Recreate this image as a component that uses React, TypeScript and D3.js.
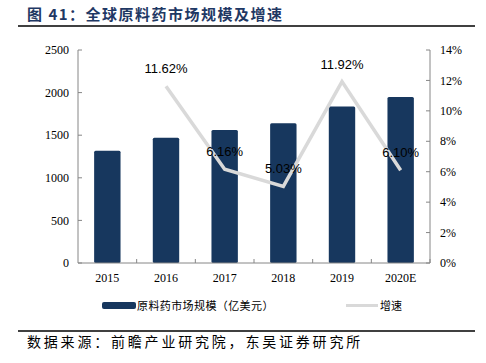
import * as d3 from "d3";

const years = ["2015", "2016", "2017", "2018", "2019", "2020E"];
const marketSize = [1318, 1471, 1562, 1640, 1836, 1948];
const growth = [null, 11.62, 6.16, 5.03, 11.92, 6.1];
const leftTicks = [0, 500, 1000, 1500, 2000, 2500];
const rightTicks = [0, 2, 4, 6, 8, 10, 12, 14];

const W = 486;
const H = 363;
const m = { left: 78, right: 430, top: 50, bottom: 263 };
const barColor = "#17375e";
const lineColor = "#d9d9d9";
const serif = "'Liberation Serif', 'Times New Roman', serif";
const sans = "'Liberation Sans', Arial, sans-serif";
const cjk = "'Noto Sans CJK SC', sans-serif";

export default function App() {
  const x = d3.scaleBand().domain(years).range([m.left, m.right]).paddingInner(0.55).paddingOuter(0.275);
  const xb = d3.scaleBand().domain(years).range([m.left, m.right]);
  const y = d3.scaleLinear().domain([0, 2500]).range([m.bottom, m.top]);
  const y2 = d3.scaleLinear().domain([0, 14]).range([m.bottom, m.top]);

  const pts = years
    .map((yr, i) => ({ yr, v: growth[i] }))
    .filter((d) => d.v !== null) as { yr: string; v: number }[];
  const line = d3
    .line<{ yr: string; v: number }>()
    .x((d) => xb(d.yr)! + xb.bandwidth() / 2)
    .y((d) => y2(d.v));

  return (
    <svg width={W} height={H} style={{ position: "absolute", left: 0, top: 0 }}>
      <rect width={W} height={H} fill="#fff" />
      <text x={27} y={20} fontFamily={cjk} fontWeight="bold" fontSize={15} letterSpacing={1.5} fill="#1f3864">
        图 41：全球原料药市场规模及增速
      </text>
      <line x1={18} x2={475} y1={26} y2={26} stroke="#000" strokeWidth={1.5} />

      {/* bars */}
      {years.map((yr, i) => (
        <rect
          key={yr}
          x={x(yr)}
          y={y(marketSize[i])}
          width={x.bandwidth()}
          height={m.bottom - y(marketSize[i])}
          rx={1.5}
          fill={barColor}
        />
      ))}

      {/* axes */}
      <g stroke="#868686" strokeWidth={1} fill="none">
        <line x1={m.left} x2={m.left} y1={m.top} y2={m.bottom} />
        <line x1={m.right} x2={m.right} y1={m.top} y2={m.bottom} />
        <line x1={m.left} x2={m.right} y1={m.bottom} y2={m.bottom} />
        {leftTicks.map((t) => (
          <line key={t} x1={m.left} x2={m.left + 4} y1={y(t)} y2={y(t)} />
        ))}
        {rightTicks.map((t) => (
          <line key={t} x1={m.right - 4} x2={m.right} y1={y2(t)} y2={y2(t)} />
        ))}
        {years.map((yr) => (
          <line key={yr} x1={xb(yr)! + xb.bandwidth()} x2={xb(yr)! + xb.bandwidth()} y1={m.bottom} y2={m.bottom - 4} />
        ))}
      </g>
      <g fontFamily={serif} fontSize={12} fill="#000">
        {leftTicks.map((t) => (
          <text key={t} x={m.left - 9} y={y(t)} dy="0.35em" textAnchor="end">
            {t}
          </text>
        ))}
        {rightTicks.map((t) => (
          <text key={t} x={m.right + 10} y={y2(t)} dy="0.35em">
            {t}%
          </text>
        ))}
        {years.map((yr) => (
          <text key={yr} x={xb(yr)! + xb.bandwidth() / 2} y={m.bottom + 19} textAnchor="middle">
            {yr}
          </text>
        ))}
      </g>

      {/* growth line */}
      <path d={line(pts)!} fill="none" stroke={lineColor} strokeWidth={3.5} />
      <g fontFamily={sans} fontSize={13} fill="#000">
        {pts.map((d) => (
          <text key={d.yr} x={xb(d.yr)! + xb.bandwidth() / 2} y={y2(d.v) - 13} textAnchor="middle">
            {d.v.toFixed(2)}%
          </text>
        ))}
      </g>

      {/* legend */}
      <rect x={102} y={302} width={34} height={7} rx={2} fill={barColor} />
      <text x={137} y={310} fontFamily={cjk} fontSize={11} letterSpacing={0.4} fill="#000">
        原料药市场规模（亿美元）
      </text>
      <line x1={346} x2={378} y1={305.5} y2={305.5} stroke={lineColor} strokeWidth={3} />
      <text x={380} y={310} fontFamily={cjk} fontSize={11} fill="#000">
        增速
      </text>

      <line x1={18} x2={475} y1={331} y2={331} stroke="#000" strokeWidth={1.5} />
      <text x={27} y={347} fontFamily={cjk} fontSize={14} letterSpacing={2.8} fill="#000">
        数据来源：前瞻产业研究院，东吴证券研究所
      </text>
    </svg>
  );
}
